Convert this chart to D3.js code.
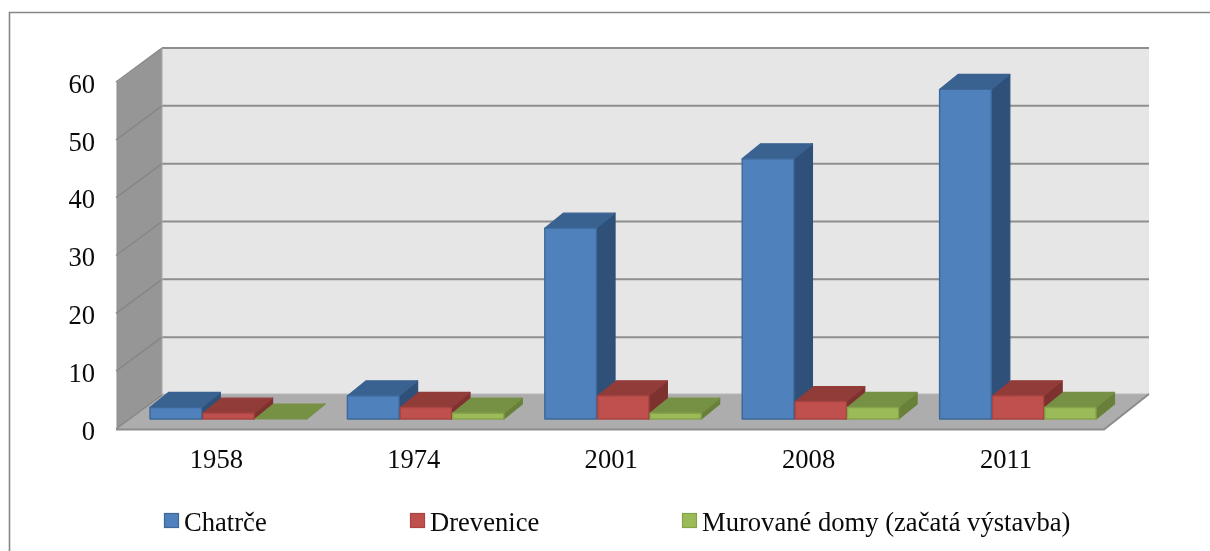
<!DOCTYPE html>
<html><head><meta charset="utf-8">
<script src="https://cdn.jsdelivr.net/npm/d3@7"></script>
<style>html,body{margin:0;padding:0;background:#fff;overflow:hidden}svg{display:block;filter:blur(0.45px)}text{font-family:"Liberation Serif",serif;fill:#0a0a0a}</style>
</head><body><svg id="c" width="1210" height="551"></svg>
<script>
const categories = ["1958","1974","2001","2008","2011"];
const seriesNames = ["Chatrče","Drevenice","Murované domy (začatá výstavba)"];
const chatrce = [2,4,33,45,57];
const drevenice = [1,2,4,3,4];
const murovane = [0,1,1,2,2];
const yTicks = [0,10,20,30,40,50,60];
const seriesValues = [chatrce,drevenice,murovane];
const faces = [
  {front:"#4f81bd",top:"#3a6291",side:"#2f5078",edge:"#3d6898"},
  {front:"#c0504d",top:"#923c3a",side:"#7d3230",edge:"#a84441"},
  {front:"#9bbb59",top:"#769044",side:"#688039",edge:"#86a24b"}
];
const svg = d3.select("#c");
const pts = a => a.map(p=>p.join(",")).join(" ");
const depth = {x:45,y:-34};
const barInset = {x:15,y:-10};
const barDepth = {x:18.5,y:-15};
const x = d3.scaleBand().domain(categories).range([117,1104]);
const y = d3.scaleLinear().domain([0,60]).range([429,82]);
const s = d3.scaleBand().domain(d3.range(3)).range([0,157]);

svg.append("path").attr("d","M1210,12.5H9.5V551").attr("fill","none").attr("stroke","#868686").attr("stroke-width",1.6);

const [x0,x1]=x.range();
svg.append("polygon").attr("points",pts([[x0+depth.x,y(60)+depth.y],[x1+depth.x,y(60)+depth.y],[x1+depth.x,y(0)+depth.y],[x0+depth.x,y(0)+depth.y]])).attr("fill","#e6e6e6");
svg.append("polygon").attr("points",pts([[x0,y(60)],[x0+depth.x,y(60)+depth.y],[x0+depth.x,y(0)+depth.y],[x0,y(0)]])).attr("fill","#969696");
svg.append("polygon").attr("points",pts([[x0,y(0)],[x0+depth.x,y(0)+depth.y-1],[x1+depth.x,y(0)+depth.y-1],[x1,y(0)]])).attr("fill","#adadad");
const grid = svg.append("g").attr("fill","none");
yTicks.forEach(t=>{
  grid.append("polyline").attr("points",pts([[x0-1,y(t)],[x0+depth.x,y(t)+depth.y]])).attr("stroke","#868686").attr("stroke-width",1.4);
  if(t>0) grid.append("line").attr("x1",x0+depth.x).attr("x2",x1+depth.x).attr("y1",y(t)+depth.y).attr("y2",y(t)+depth.y).attr("stroke","#8e8e8e").attr("stroke-width",2);
});
grid.append("line").attr("x1",x0+depth.x).attr("x2",x1+depth.x).attr("y1",y(0)+depth.y-1).attr("y2",y(0)+depth.y-1).attr("stroke","#b8b8b8").attr("stroke-width",1.2);
grid.append("line").attr("x1",x0+depth.x).attr("x2",x0+depth.x).attr("y1",y(60)+depth.y).attr("y2",y(0)+depth.y).attr("stroke","#a8a8a8").attr("stroke-width",1);
grid.append("polyline").attr("points",pts([[x0-1,y(0)+.5],[x1,y(0)+.5],[x1+depth.x,y(0)+depth.y-1]])).attr("stroke","#8c8c8c").attr("stroke-width",2);
grid.append("line").attr("x1",x0).attr("x2",x0).attr("y1",y(60)).attr("y2",y(0)).attr("stroke","#8c8c8c").attr("stroke-width",1);

const bars = svg.append("g").attr("stroke-linejoin","round");
categories.forEach((c,ci)=>{
  seriesValues.forEach((vals,si)=>{
    const f = faces[si], v = vals[ci];
    const l = x(c)+33+s(si)+(si?0.6:0), w = s.bandwidth()-(si?1.2:0.6);
    const b = y(0)+barInset.y, t = y(v)+barInset.y;
    const r = l+w, dx=barDepth.x, dy=barDepth.y;
    const g = bars.append("g").attr("stroke-width",1.2);
    g.append("polygon").attr("points",pts([[r,t],[r+dx,t+dy],[r+dx,b+dy],[r,b]])).attr("fill",f.side).attr("stroke",f.side);
    g.append("polygon").attr("points",pts([[l,t],[l+dx,t+dy],[r+dx,t+dy],[r,t]])).attr("fill",f.top).attr("stroke",f.top);
    if(v>0) g.append("rect").attr("x",l).attr("y",t).attr("width",w).attr("height",b-t).attr("fill",f.front).attr("stroke",f.edge).attr("stroke-width",1.4);
  });
});

const yAxis = d3.axisLeft(y).tickValues(yTicks).tickSize(0).tickPadding(22);
const ga = svg.append("g").attr("transform",`translate(${x0},0.7)`).call(yAxis);
ga.select(".domain").remove();
ga.selectAll("text").attr("font-size",26.6).attr("font-family","Liberation Serif").attr("dy","0.36em").attr("fill","#0a0a0a");
const xAxis = d3.axisBottom(x).tickSize(0).tickPadding(20);
const gx = svg.append("g").attr("transform",`translate(0.7,${y(0)})`).call(xAxis);
gx.select(".domain").remove();
gx.selectAll("text").attr("font-size",26.6).attr("font-family","Liberation Serif").attr("fill","#0a0a0a");

const legendX = d3.scaleOrdinal().domain(seriesNames).range([164,410,682]);
const lg = svg.append("g");
seriesNames.forEach((n,i)=>{
  lg.append("rect").attr("x",legendX(n)+.5).attr("y",513.5).attr("width",14).attr("height",14).attr("fill",faces[i].front).attr("stroke",faces[i].edge).attr("stroke-width",1.2);
  lg.append("text").attr("x",legendX(n)+20).attr("y",530.5).attr("font-size",26.6).text(n);
});
</script></body></html>
